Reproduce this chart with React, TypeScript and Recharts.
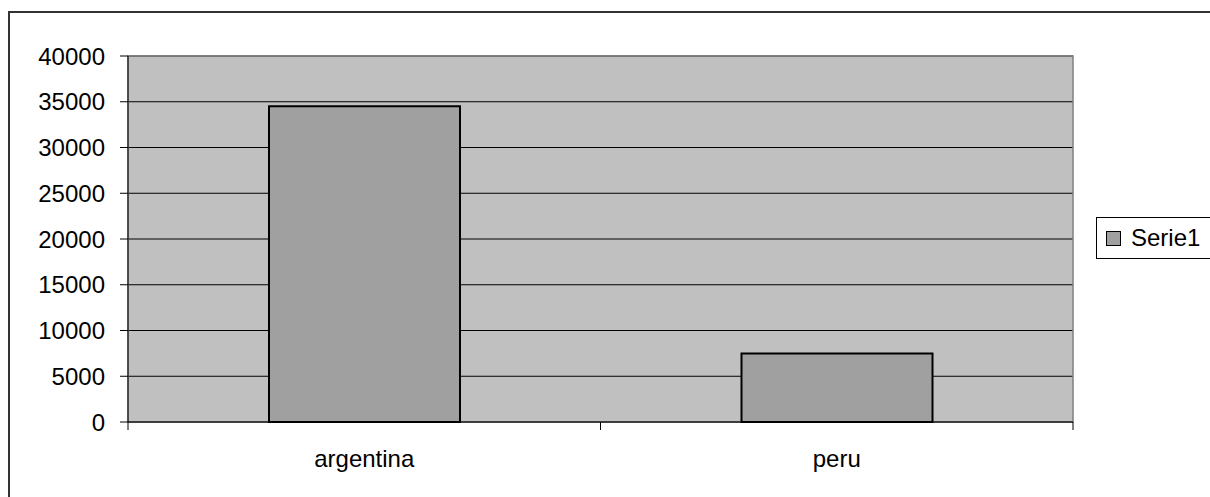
import React from "react";
import {
  BarChart,
  Bar,
  XAxis,
  YAxis,
  CartesianGrid,
  Legend,
  ReferenceArea,
} from "recharts";

const categories = ["argentina", "peru"];
const serie1 = [34500, 7500];
const yTicks = [0, 5000, 10000, 15000, 20000, 25000, 30000, 35000, 40000];
const seriesName = "Serie1";

const data = categories.map((name, i) => ({ name, serie1: serie1[i] }));

const W = 1210;
const H = 497;
const margin = { top: 56, right: 137, bottom: 30, left: 28 };
const Y_AXIS_W = 100;
const X_AXIS_H = 45;
const FONT = '"Liberation Sans", Arial, sans-serif';

// half a category band, so the x tick marks sit on the band edges like Excel does
const half = (W - margin.left - Y_AXIS_W - margin.right) / categories.length / 2;

function CategoryTick(props: any) {
  const { x, y, payload } = props;
  return (
    <g>
      <line x1={x - half} x2={x - half} y1={y - 8} y2={y} stroke="#000" />
      <line x1={x + half} x2={x + half} y1={y - 8} y2={y} stroke="#000" />
      <text
        x={x}
        y={y + 37}
        textAnchor="middle"
        fontSize={24}
        fontFamily={FONT}
        fill="#000"
      >
        {payload.value}
      </text>
    </g>
  );
}

function LegendBox(props: any) {
  const items = props.payload || [];
  return (
    <div
      style={{
        border: "1px solid #000",
        height: 40,
        display: "flex",
        alignItems: "center",
        padding: "0 9px",
        background: "#fff",
        fontFamily: FONT,
        fontSize: 24,
        color: "#000",
      }}
    >
      {items.map((entry: any) => (
        <span key={entry.value} style={{ display: "flex", alignItems: "center" }}>
          <span
            style={{
              display: "inline-block",
              width: 13,
              height: 13,
              background: entry.color,
              border: "1px solid #000",
              marginRight: 10,
            }}
          />
          {entry.value}
        </span>
      ))}
    </div>
  );
}

export default function App() {
  return (
    <div
      style={{
        position: "fixed",
        left: 0,
        top: 0,
        width: W,
        height: H,
        overflow: "hidden",
        background: "#fff",
      }}
    >
      <div
        style={{
          position: "absolute",
          left: 8,
          top: 11,
          width: 1400,
          height: 800,
          borderTop: "2px solid #333",
          borderLeft: "2px solid #333",
        }}
      />
      <div style={{ position: "absolute", left: 0, top: 0 }}>
        <BarChart width={W} height={H} data={data} margin={margin}>
          <CartesianGrid vertical={false} stroke="#000" fill="#c0c0c0" />
          <ReferenceArea
            y1={0}
            y2={40000}
            fill="none"
            stroke="#808080"
            strokeWidth={1.5}
            ifOverflow="visible"
          />
          <XAxis
            dataKey="name"
            height={X_AXIS_H}
            tickLine={false}
            tickSize={8}
            tickMargin={0}
            axisLine={{ stroke: "#000" }}
            tick={<CategoryTick />}
            interval={0}
          />
          <YAxis
            width={Y_AXIS_W}
            domain={[0, 40000]}
            ticks={yTicks}
            interval={0}
            tickSize={8}
            tickMargin={15}
            axisLine={{ stroke: "#000" }}
            tickLine={{ stroke: "#000" }}
            tick={{ fill: "#000", fontSize: 24, fontFamily: FONT }}
          />
          <Legend
            layout="horizontal"
            verticalAlign="middle"
            align="center"
            wrapperStyle={{ left: 1096, top: 217, right: "auto", width: 160 }}
            content={<LegendBox />}
          />
          <Bar
            dataKey="serie1"
            name={seriesName}
            fill="#a0a0a0"
            stroke="#000"
            strokeWidth={2}
            barSize={191}
            isAnimationActive={false}
          />
        </BarChart>
      </div>
    </div>
  );
}
